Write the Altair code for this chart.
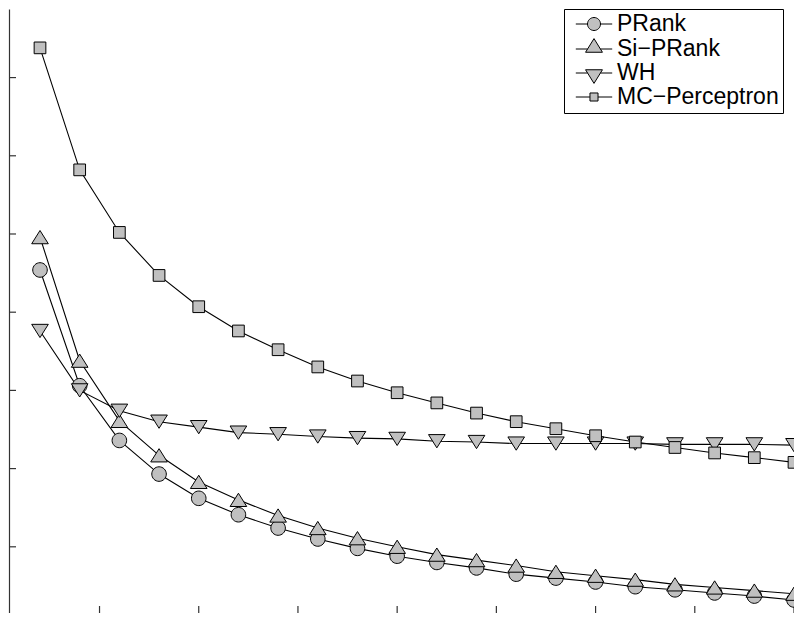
import altair as alt
import pandas as pd

# ---- data ------------------------------------------------------------------
steps = list(range(1, 21))
series_names = ["PRank", "Si\u2212PRank", "WH", "MC\u2212Perceptron"]
prank = [4.54, 3.06, 2.36, 1.93, 1.62, 1.41, 1.24, 1.10, 0.98, 0.88,
         0.80, 0.73, 0.65, 0.60, 0.55, 0.49, 0.45, 0.41, 0.37, 0.32]
si_prank = [4.96, 3.38, 2.61, 2.17, 1.83, 1.60, 1.40, 1.24, 1.11, 1.00,
            0.90, 0.83, 0.76, 0.68, 0.63, 0.58, 0.52, 0.48, 0.44, 0.40]
wh = [3.76, 3.00, 2.74, 2.60, 2.53, 2.46, 2.44, 2.41, 2.39, 2.38,
      2.35, 2.34, 2.32, 2.32, 2.32, 2.32, 2.31, 2.31, 2.31, 2.30]
mc_perceptron = [7.38, 5.82, 5.02, 4.47, 4.07, 3.76, 3.52, 3.30, 3.12, 2.97,
                 2.84, 2.71, 2.60, 2.51, 2.42, 2.34, 2.27, 2.20, 2.14, 2.08]
x_tick_values = [2.5, 5, 7.5, 10, 12.5, 15, 17.5, 20]
y_tick_values = [1, 2, 3, 4, 5, 6, 7]

series_values = [prank, si_prank, wh, mc_perceptron]
rows = []
for name, vals in zip(series_names, series_values):
    for s, v in zip(steps, vals):
        rows.append({"step": s, "value": v, "series": name, "key": name})
df = pd.DataFrame(rows)

# ---- styling -----------------------------------------------------------------
AXIS_COLOR = "#333333"
MARKER_FILL = "#c0c0c0"
W, H = 785, 604

x_scale = alt.Scale(domain=[0.2188, 20.0], nice=False, zero=False)
y_scale = alt.Scale(domain=[0.1535, 7.877], nice=False, zero=False)
x_axis = alt.Axis(labels=False, ticks=False, grid=False, domain=True,
                  domainColor=AXIS_COLOR, domainWidth=1.2, title=None)
y_axis = alt.Axis(labels=False, ticks=False, grid=False, domain=True,
                  domainColor=AXIS_COLOR, domainWidth=1.2, title=None)

X = alt.X("step:Q", scale=x_scale, axis=x_axis)
Y = alt.Y("value:Q", scale=y_scale, axis=y_axis)

# plot markers (units of sqrt(size)/2)
m_circle = "M1.12,0A1.12,1.12 0 1,1 -1.12,0A1.12,1.12 0 1,1 1.12,0Z"
m_up = "M0,-1.02L1.28,1.02L-1.28,1.02Z"
m_down = "M0,1.02L1.28,-1.02L-1.28,-1.02Z"
m_square = "M-0.9,-0.9H0.9V0.9H-0.9Z"

# legend symbols: line segments + marker
p_circle = "M-2.8,0H-1M1,0H2.8M1,0A1,1 0 1,1 -1,0A1,1 0 1,1 1,0Z"
p_up = "M-2.8,0H-0.99M0.99,0H2.8M0,-1.6L1.3,0.5L-1.3,0.5Z"
p_down = "M-2.8,0H-0.99M0.99,0H2.8M0,1.6L1.3,-0.5L-1.3,-0.5Z"
p_square = "M-2.8,0H-0.62M0.62,0H2.8M-0.62,-0.62H0.62V0.62H-0.62Z"

legend = alt.Legend(
    title=None,
    orient="none",
    legendX=555,
    legendY=0,
    padding=3.5,
    strokeColor="black",
    fillColor="white",
    labelFont="Liberation Sans",
    labelFontSize=23,
    labelColor="black",
    labelLimit=400,
    labelOffset=11.5,
    symbolSize=169,
    symbolOffset=15,
    symbolStrokeWidth=1,
    symbolStrokeColor="black",
    symbolFillColor=MARKER_FILL,
    symbolOpacity=1,
    rowPadding=0,
)

lines = alt.Chart(df).mark_line(color="black", strokeWidth=1.1).encode(
    x=X, y=Y, detail="series:N"
)

points = alt.Chart(df).mark_point(
    filled=True, fill=MARKER_FILL, stroke="black", strokeWidth=1,
    opacity=1, fillOpacity=1, strokeOpacity=1, size=169
).encode(
    x=X,
    y=Y,
    shape=alt.Shape("series:N",
                    scale=alt.Scale(domain=series_names,
                                    range=[m_circle, m_up, m_down, m_square]),
                    legend=None),
)

# invisible layer that only carries the legend (line + marker symbols)
legend_layer = alt.Chart(df).mark_point(filled=True, opacity=0).encode(
    x=X,
    y=Y,
    shape=alt.Shape("key:N",
                    scale=alt.Scale(domain=series_names,
                                    range=[p_circle, p_up, p_down, p_square]),
                    legend=legend),
    fill=alt.Fill("key:N",
                  scale=alt.Scale(domain=series_names, range=[MARKER_FILL] * 4),
                  legend=None),
    stroke=alt.Stroke("key:N",
                      scale=alt.Scale(domain=series_names, range=["black"] * 4),
                      legend=None),
)

y_ticks = alt.Chart(pd.DataFrame({"value": y_tick_values})).mark_rule(
    color=AXIS_COLOR, strokeWidth=1.2
).encode(y=Y, x=alt.value(0), x2=alt.value(7))

x_ticks = alt.Chart(pd.DataFrame({"step": x_tick_values})).mark_rule(
    color=AXIS_COLOR, strokeWidth=1.2
).encode(x=X, y=alt.value(H), y2=alt.value(H - 7))

chart = alt.layer(lines, y_ticks, x_ticks, points, legend_layer).resolve_scale(
    shape="independent"
).properties(
    width=W,
    height=H,
    autosize=alt.AutoSizeParams(type="none"),
    padding={"left": 1, "top": 1, "right": 0, "bottom": 0},
    background="white",
).configure_view(strokeOpacity=0)

chart.save("out.html", embed_options={"renderer": "svg", "actions": False})
